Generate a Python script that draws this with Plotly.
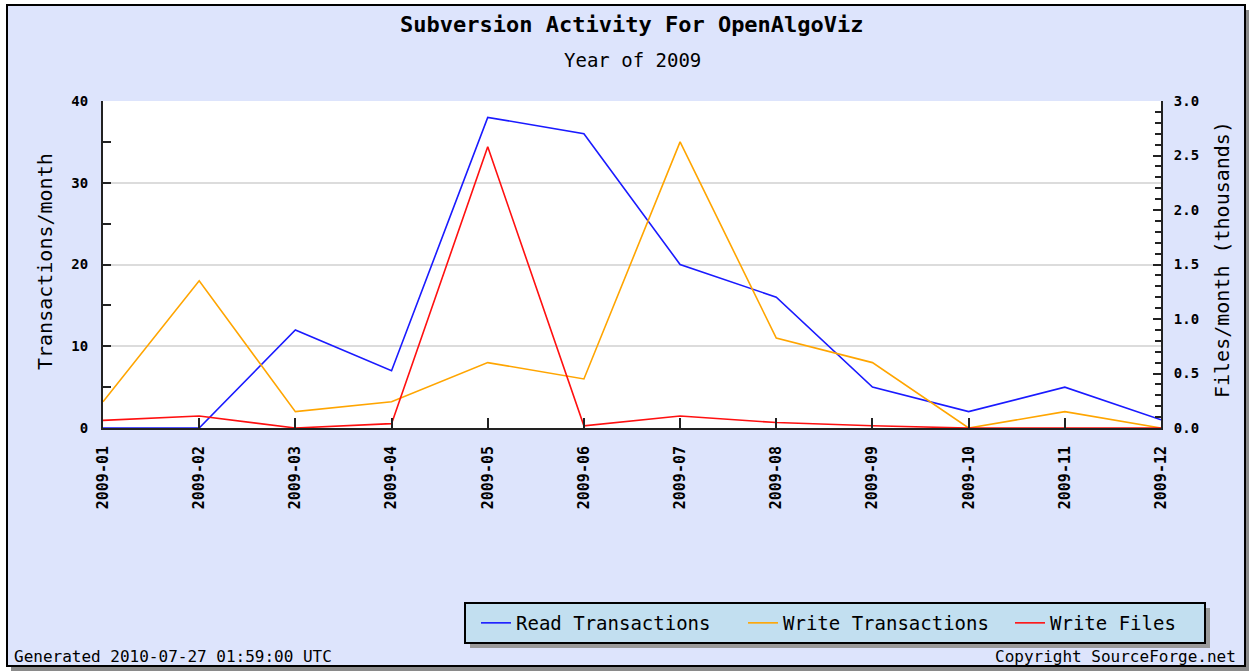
import plotly.graph_objects as go

months = ["2009-01", "2009-02", "2009-03", "2009-04", "2009-05", "2009-06",
          "2009-07", "2009-08", "2009-09", "2009-10", "2009-11", "2009-12"]
read_tx = [0, 0, 12, 7, 38, 36, 20, 16, 5, 2, 5, 1]
write_tx = [3.2, 18, 2, 3.2, 8, 6, 35, 11, 8, 0, 2, 0]
write_files = [0.07, 0.11, 0.0, 0.04, 2.58, 0.02, 0.11, 0.05, 0.02, 0, 0, 0]
left_ticks = [0, 10, 20, 30, 40]
right_ticks = [0.0, 0.5, 1.0, 1.5, 2.0, 2.5, 3.0]

W, H = 1250, 671
L, R, T, B = 103, 1161, 101, 428
PW, PH = R - L, B - T


def px(x):
    return (x - L) / PW


def py(y):
    return (B - y) / PH


MONO = "DejaVu Sans Mono"
fig = go.Figure()
fig.add_trace(go.Scatter(x=months, y=read_tx, name="Read Transactions", mode="lines",
                         line=dict(color="#1a1aff", width=1.6)))
fig.add_trace(go.Scatter(x=months, y=write_tx, name="Write Transactions", mode="lines",
                         line=dict(color="#ffa500", width=1.6)))
fig.add_trace(go.Scatter(x=months, y=write_files, name="Write Files", mode="lines",
                         yaxis="y2", line=dict(color="#ff1010", width=1.6)))

shapes = [
    # frame shadow
    dict(type="rect", xref="paper", yref="paper", x0=px(11), x1=px(1249), y0=py(10), y1=py(671),
         fillcolor="#8a8a8a", line=dict(width=0), layer="below"),
    # frame
    dict(type="rect", xref="paper", yref="paper", x0=px(7), x1=px(1245), y0=py(5), y1=py(666),
         fillcolor="#dde4fc", line=dict(color="black", width=2), layer="below"),
    # plot area
    dict(type="rect", xref="paper", yref="paper", x0=0, x1=1, y0=0, y1=1,
         fillcolor="white", line=dict(width=0), layer="below"),
    # legend shadow
    dict(type="rect", xref="paper", yref="paper", x0=px(470), x1=px(1210), y0=py(608), y1=py(648),
         fillcolor="#9a9a9a", line=dict(width=0), layer="below"),
    # legend box
    dict(type="rect", xref="paper", yref="paper", x0=px(465), x1=px(1205), y0=py(603), y1=py(643),
         fillcolor="#c2dff0", line=dict(color="black", width=2), layer="below"),
]

annotations = [
    dict(text="<b>Subversion Activity For OpenAlgoViz</b>", x=0.5, y=py(25), xref="paper", yref="paper",
         showarrow=False, font=dict(family=MONO, size=22, color="black"), xanchor="center", yanchor="middle"),
    dict(text="Year of 2009", x=0.5, y=py(60), xref="paper", yref="paper",
         showarrow=False, font=dict(family=MONO, size=19, color="black"), xanchor="center", yanchor="middle"),
    dict(text="Transactions/month", x=px(45), y=py(262), xref="paper", yref="paper", textangle=-90,
         showarrow=False, font=dict(family=MONO, size=20, color="black"), xanchor="center", yanchor="middle"),
    dict(text="Files/month (thousands)", x=px(1222), y=py(260), xref="paper", yref="paper", textangle=-90,
         showarrow=False, font=dict(family=MONO, size=20, color="black"), xanchor="center", yanchor="middle"),
    dict(text="Generated 2010-07-27 01:59:00 UTC", x=px(12), y=py(656), xref="paper", yref="paper",
         showarrow=False, font=dict(family=MONO, size=16, color="black"), xanchor="left", yanchor="middle"),
    dict(text="Copyright SourceForge.net", x=px(1238), y=py(656), xref="paper", yref="paper",
         showarrow=False, font=dict(family=MONO, size=16, color="black"), xanchor="right", yanchor="middle"),
]

fig.update_layout(
    width=W, height=H,
    margin=dict(l=L, r=W - R, t=T, b=H - B, autoexpand=False),
    paper_bgcolor="white", plot_bgcolor="rgba(0,0,0,0)",
    shapes=shapes, annotations=annotations,
    showlegend=True,
    legend=dict(orientation="h", x=px(476), y=py(623), xanchor="left", yanchor="middle",
                bgcolor="rgba(0,0,0,0)", borderwidth=0, itemwidth=30, entrywidth=222,
                font=dict(family=MONO, size=19, color="black")),
    xaxis=dict(type="category", range=[0, 11], tickangle=-90, ticks="inside", ticklen=10,
               tickwidth=2, tickcolor="#222", showline=True, linecolor="#222", linewidth=2,
               showgrid=False, zeroline=False, ticklabelstandoff=10,
               tickfont=dict(family=MONO, size=15, color="black", weight="bold")),
    yaxis=dict(range=[0, 40], tickvals=left_ticks, ticks="inside", ticklen=8, tickwidth=2,
               tickcolor="#222", showline=True, linecolor="#222", linewidth=2,
               showgrid=True, gridcolor="#dcdcdc", gridwidth=2, zeroline=False,
               minor=dict(dtick=5, ticks="inside", ticklen=8, tickwidth=2, tickcolor="#222", showgrid=False),
               ticklabelstandoff=10,
               tickfont=dict(family=MONO, size=14, color="black", weight="bold")),
    yaxis2=dict(range=[0, 3], overlaying="y", side="right", tickvals=right_ticks, tickformat=".1f",
                ticks="inside", ticklen=8, tickwidth=2, tickcolor="#222", showline=True,
                linecolor="#222", linewidth=2, showgrid=False, zeroline=False,
                minor=dict(dtick=0.1, ticks="inside", ticklen=6, tickwidth=2, tickcolor="#222"),
                ticklabelstandoff=8,
                tickfont=dict(family=MONO, size=14, color="black", weight="bold")),
)

fig.write_html("out.html", config={"displayModeBar": False},
               post_script="document.body.style.margin='0';")
